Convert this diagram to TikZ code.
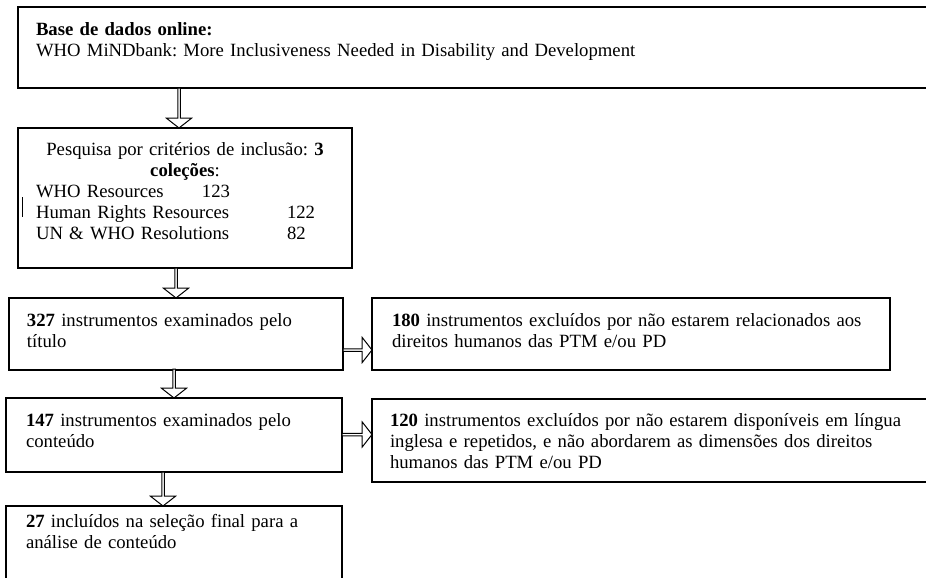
\documentclass[tikz,border=0pt]{standalone}
\usepackage{fontspec}
\setmainfont{Liberation Serif}
\usetikzlibrary{shapes.arrows}

\begin{document}
\frenchspacing
\begin{tikzpicture}[x=1pt,y=-1pt,
box/.style={draw,rectangle,line width=1.2pt,anchor=north west,align=left,inner xsep=18pt,inner ysep=0pt,outer sep=0pt,font=\fontsize{18.7}{21}\selectfont},
blockarrow/.style={draw,single arrow,single arrow head extend=4.5pt,single arrow tip angle=104,minimum width=25pt,inner sep=0pt,outer sep=0pt,line width=1pt,fill=white,anchor=tip}]
\fill[white] (0,0) rectangle (926,578);
\useasboundingbox (0,0) rectangle (926,578);

\node (base) [box,text width=900pt,text height=29pt,text depth=52pt] at (18,7)
  {\textbf{Base de dados online:}\\
   WHO MiNDbank: More Inclusiveness Needed in Disability and Development};

\node (search) [box,text width=298pt,text height=27pt,text depth=113pt] at (18,128)
  {\makebox[\linewidth]{Pesquisa por critérios de inclusão: \textbf{3}}\\
   \makebox[\linewidth]{\textbf{coleções}:}\\
   \makebox[166pt][l]{WHO Resources}123\\
   \makebox[251pt][l]{Human Rights Resources}122\\
   \makebox[251pt][l]{UN \& WHO Resolutions}82};
\draw[line width=0.8pt] (22,197) -- (22,217);

\node (bytitle) [box,text width=298pt,text height=28pt,text depth=44pt] at (9,298)
  {\textbf{327} instrumentos examinados pelo\\ título};

\node (exclone) [box,inner xsep=20pt,text width=478pt,text height=28pt,text depth=44pt] at (372,298)
  {\textbf{180} instrumentos excluídos por não estarem relacionados aos\\
   direitos humanos das PTM e/ou PD};

\node (bycontent) [box,inner xsep=20pt,text width=296pt,text height=28pt,text depth=46pt] at (6,398)
  {\textbf{147} instrumentos examinados pelo\\ conteúdo};

\node (excltwo) [box,text width=900pt,text height=27pt,text depth=56pt] at (372,399)
  {\textbf{120} instrumentos excluídos por não estarem disponíveis em língua\\
   inglesa e repetidos, e não abordarem as dimensões dos direitos\\
   humanos das PTM e/ou PD};

\node (final) [box,inner xsep=20pt,text width=296pt,text height=21pt,text depth=80pt] at (6,506)
  {\textbf{27} incluídos na seleção final para a\\ análise de conteúdo};

\node (arrone) [blockarrow,rotate=-90,minimum height=40pt] at ([xshift=-6pt]search.north) {};
\node (arrtwo) [blockarrow,rotate=-90,minimum height=30pt] at (bytitle.north) {};
\node (arrthree) [blockarrow,rotate=-90,minimum height=29pt] at (bycontent.north) {};
\node (arrfour) [blockarrow,rotate=-90,minimum height=34pt] at ([xshift=-11pt]final.north) {};
\node (arrexone) [blockarrow,minimum height=29pt] at ([yshift=-16pt]exclone.west) {};
\node (arrextwo) [blockarrow,minimum height=30pt] at ([yshift=6pt]excltwo.west) {};
\end{tikzpicture}
\end{document}
